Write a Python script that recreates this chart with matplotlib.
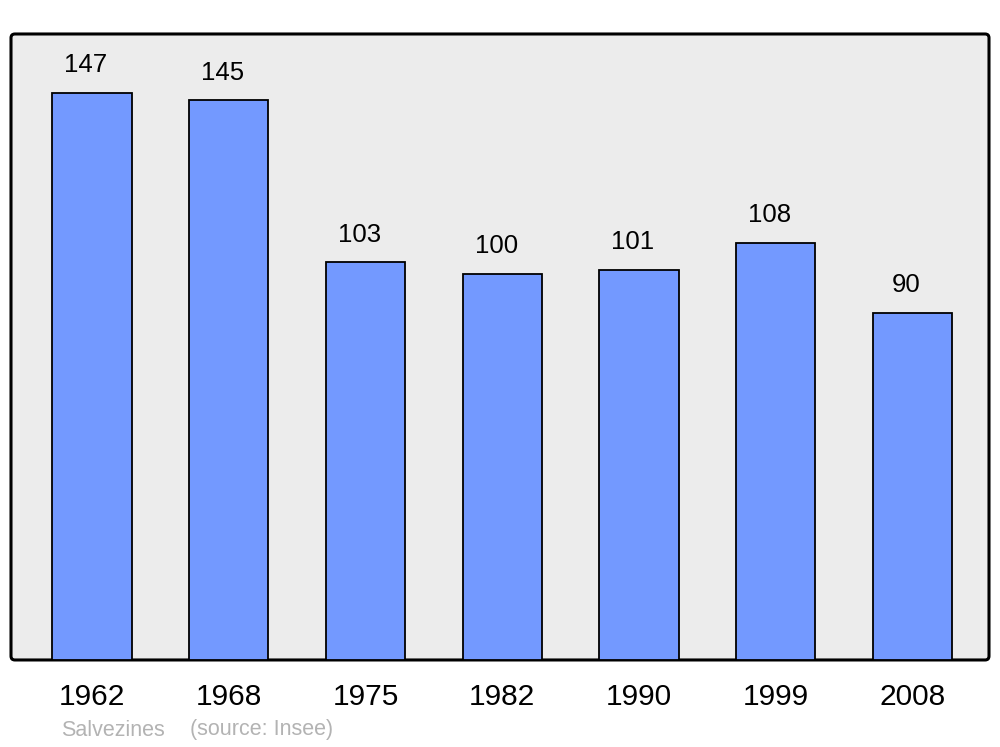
import matplotlib.pyplot as plt
from matplotlib.patches import FancyBboxPatch

plt.rcParams['font.family'] = ['Liberation Sans', 'DejaVu Sans']

annees = ['1962', '1968', '1975', '1982', '1990', '1999', '2008']
population = [147, 145, 103, 100, 101, 108, 90]
commune = 'Salvezines'
source = '(source: Insee)'

fig = plt.figure(figsize=(10, 7.47), dpi=100)
ax = fig.add_axes([0.011, 0.1165, 0.978, 0.838])
ax.patch.set_visible(False)
for s in ax.spines.values():
    s.set_visible(False)

# cadre gris arrondi
cadre = FancyBboxPatch((0, 0), 1, 1, boxstyle="round,pad=0,rounding_size=0.004",
                       mutation_aspect=978 / 626, transform=ax.transAxes,
                       facecolor='#ececec', edgecolor='black', lw=2.2,
                       clip_on=False, zorder=0)
ax.add_patch(cadre)

x = range(len(annees))
ax.bar(x, population, width=0.58, color='#7399ff', edgecolor='black',
       linewidth=1.3, zorder=2)

for i, v in enumerate(population):
    ax.annotate(str(v), (i, v), xytext=(-4.3, 20), textcoords='offset points',
                ha='center', va='center', fontsize=18.5)

ax.set_xlim(-0.592, 6.56)
ax.set_ylim(0, 162.2)
ax.set_yticks([])
ax.set_xticks(list(x))
ax.set_xticklabels(annees, fontsize=21.5)
ax.tick_params(axis='x', length=0, pad=16.5)

fig.text(0.061, 1 - 730 / 747, commune, va='center', ha='left',
         fontsize=15.5, color='#b3b3b3')
fig.text(0.190, 1 - 730 / 747, source, va='center', ha='left',
         fontsize=15.5, color='#b3b3b3')

fig.savefig('out.png', dpi=100)
